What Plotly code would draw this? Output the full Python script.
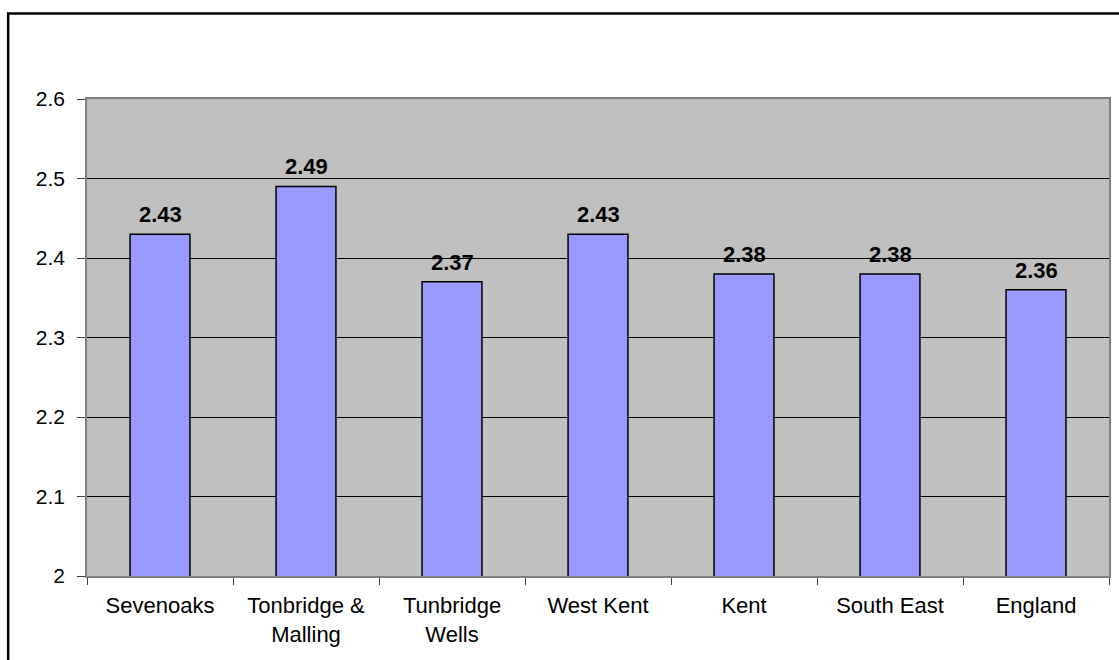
import plotly.graph_objects as go

categories = ["Sevenoaks", "Tonbridge &<br>Malling", "Tunbridge<br>Wells", "West Kent", "Kent", "South East", "England"]
values = [2.43, 2.49, 2.37, 2.43, 2.38, 2.38, 2.36]
labels = ["2.43", "2.49", "2.37", "2.43", "2.38", "2.38", "2.36"]
y_ticks = [2.0, 2.1, 2.2, 2.3, 2.4, 2.5, 2.6]
y_tick_text = ["2", "2.1", "2.2", "2.3", "2.4", "2.5", "2.6"]

W, H = 1119, 660
ml, mr, mt, mb = 87, 8, 99, 84

fig = go.Figure(go.Bar(
    x=categories, y=values,
    marker=dict(color="#9999FF", line=dict(color="#000000", width=1.5)),
))

for c, v, t in zip(categories, values, labels):
    fig.add_annotation(
        x=c, y=v, text=t, showarrow=False, yanchor="bottom", yshift=5,
        font=dict(family="Arial, Liberation Sans", size=22, color="#000000", weight="bold"),
    )

pw = W - ml - mr
ph = H - mt - mb
fig.update_layout(
    width=W, height=H,
    margin=dict(l=ml, r=mr, t=mt, b=mb, pad=0),
    paper_bgcolor="#FFFFFF", plot_bgcolor="#C0C0C0",
    bargap=0.59, showlegend=False,
    font=dict(family="Arial, Liberation Sans", size=21, color="#000000"),
    xaxis=dict(
        showgrid=False, showline=True, linecolor="#808080", linewidth=1.5, mirror=True,
        ticks="outside", tickson="boundaries", ticklen=7, tickcolor="#404040", tickwidth=1,
        tickfont=dict(size=22), ticklabelstandoff=9,
    ),
    yaxis=dict(
        range=[2.0, 2.6], tickvals=y_ticks, ticktext=y_tick_text,
        showgrid=True, gridcolor="#000000", gridwidth=1,
        showline=True, linecolor="#808080", linewidth=1.5, mirror=True,
        ticks="outside", ticklen=8, tickcolor="#404040", tickwidth=1,
        tickfont=dict(size=21), ticklabelstandoff=8, zeroline=False,
    ),
    shapes=[dict(
        type="rect", xref="paper", yref="paper",
        x0=(8 - ml) / pw, x1=(W + 20 - ml) / pw,
        y0=-(H + 20 - mt - ph) / ph, y1=(H - 13.5 - mb) / ph,
        line=dict(color="#000000", width=2.5), fillcolor="rgba(0,0,0,0)", layer="above",
    )],
)

fig.write_html("out.html")
